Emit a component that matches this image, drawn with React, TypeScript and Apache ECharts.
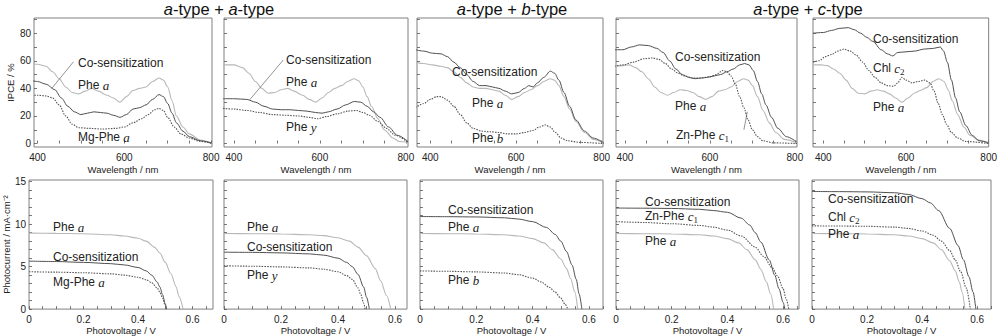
import { useEffect, useRef } from "react";
import * as echarts from "echarts";

// ---------- axis ticks ----------
const wavelengthTicks = [400, 450, 500, 550, 600, 650, 700, 750, 800];
const wavelengthLabels = [400, 600, 800];
const ipceTicks = [0, 10, 20, 30, 40, 50, 60, 70, 80, 90];
const ipceLabels = [0, 20, 40, 60, 80];
const voltageTicks = [0, 0.05, 0.1, 0.15, 0.2, 0.25, 0.3, 0.35, 0.4, 0.45, 0.5, 0.55, 0.6, 0.65];
const voltageLabels = [0, 0.2, 0.4, 0.6];
const currentTicks = [0, 1, 2, 3, 4, 5, 6, 7, 8, 9, 10, 11, 12, 13, 14, 15];
const currentLabels = [0, 5, 10, 15];

const titles = ["{i|a}-type + {i|a}-type", "{i|a}-type + {i|b}-type", "{i|a}-type + {i|c}-type"];

// ---------- IPCE spectra [wavelength nm, IPCE %] ----------
const p1Co = [[380,46],[400,45],[420,43],[440,39],[455,33],[470,27],[485,23],[500,21],[515,22],[530,23],[545,22.5],[560,22],[575,20.5],[590,19],[605,21],[620,25],[635,26],[650,28],[665,32],[680,35.5],[690,34],[700,29],[710,22],[720,15],[735,9],[750,5],[775,2],[800,0.5]];
const p1PheA = [[380,58],[400,57.5],[420,56],[435,52],[450,47],[465,41],[480,37],[495,36],[510,38],[525,40],[540,38],[560,35],[575,33],[590,30],[605,34],[620,38.5],[635,40],[650,41],[665,45],[680,47.5],[690,46],[700,41],[710,31],[720,20],[735,12],[750,7],[775,2.5],[800,0.5]];
const p1MgPheA = [[380,35],[400,35],[420,34.5],[435,33],[450,28],[465,20],[480,14],[495,11.5],[520,11],[550,10.5],[580,11],[600,12],[620,15],[640,18],[655,21],[670,24.5],[680,25.5],[690,24],[700,19],[715,12],[730,7],[750,4],[775,1.5],[800,0.3]];
const p1Pointer = [[483,59.3],[433,40]];

const p2PheA = [[375,57],[400,57],[420,55],[435,51],[450,45],[465,40],[480,36.5],[495,37],[510,39],[525,40],[540,38],[560,35],[575,32],[590,30],[605,33],[620,37],[635,40],[650,42],[665,45],[680,47],[690,45.5],[700,41],[710,34],[720,27],[735,18],[750,10],[770,4],[785,1.5],[805,1]];
const p2Co = [[375,32.5],[400,32.5],[430,32],[450,30],[470,27],[490,25],[510,24.5],[530,24.5],[550,24],[570,23.5],[590,22.5],[605,22],[620,23],[640,25],[660,28],[680,30.5],[695,30],[710,27],[725,23],[740,19],[760,12],[780,6],[805,1.5]];
const p2PheY = [[375,25.5],[400,25],[430,24],[460,22.5],[490,21],[520,20.5],[550,20],[575,19],[595,18],[615,19.5],[640,21.5],[665,23.5],[685,24],[700,22.5],[715,20.5],[735,16],[755,11],[775,6],[805,1]];
const p2Pointer = [[515,60.6],[437,31.8]];

const p3Co = [[365,68],[385,67],[405,65.5],[425,65],[440,63],[455,59],[470,55],[485,50],[500,45],[515,42],[530,42],[545,41],[560,40],[575,38],[590,36],[605,37],[620,40],[630,42],[640,41],[650,44],[665,48],[680,52.5],[690,51],[700,46],[712,37],[725,27],[740,17],[760,9],[780,4],[805,0.5]];
const p3PheA = [[365,59],[385,58],[405,57],[425,56],[440,55],[455,52],[470,48],[485,44],[500,41],[515,40],[530,40],[545,39],[560,38],[575,35],[590,32],[605,34],[620,37],[635,39],[650,42],[665,45],[680,47],[690,46],[700,42],[712,34],[725,25],[740,16],[760,8],[780,3],[805,0.5]];
const p3PheB = [[365,26],[385,29],[400,32],[415,34],[425,34],[440,31.5],[455,27],[470,21],[485,15],[500,11],[520,9],[540,8.5],[560,8],[580,7],[600,7],[620,8],[640,9.5],[655,12],[668,13.5],[680,12],[692,8],[705,4],[720,2],[750,0.8],[805,0]];

const p4Co = [[375,68],[395,68],[415,70],[435,71.5],[455,71],[475,69],[490,66],[505,60],[520,54],[535,50],[550,48],[565,47],[580,47.5],[595,48],[610,49],[625,50],[640,52],[655,54],[670,57],[682,58],[692,57],[702,53],[712,45],[722,36],[732,28],[745,19],[760,11],[780,5],[805,1]];
const p4ZnPheC1 = [[375,56],[395,57],[420,59],[445,61.5],[465,62],[480,61],[495,58],[510,54],[525,51],[540,49],[560,47.5],[580,47.5],[600,48.5],[615,50],[630,53],[640,52],[650,49],[660,43],[670,34],[680,26],[690,17],[700,10],[712,5],[725,2],[750,0.5],[805,0]];
const p4PheA = [[375,56],[395,56.5],[410,57],[425,55],[440,52],[455,47],[470,41],[485,37],[500,35],[515,37],[530,39],[545,38.5],[560,37],[575,34],[590,32],[605,34],[620,38],[635,39],[650,41],[665,45],[680,47],[690,46],[700,42],[712,34],[725,24],[740,15],[755,8],[775,3],[805,0.5]];
const p4Pointer = [[680,10],[688,23]];

const p5Co = [[375,80],[400,80.5],[420,82],[440,83.5],[460,84],[475,82.5],[490,80],[505,77],[520,74],[540,68],[555,65],[568,63.5],[580,66],[600,66.5],[620,67],[645,68.5],[667,69],[683,70],[691,67],[700,59],[710,46],[720,33],[730,23],[745,13],[760,6],[777,2],[800,0.5]];
const p5ChlC2 = [[375,59],[390,60],[405,63],[420,64.5],[435,67],[450,68.5],[465,67],[480,64],[495,59],[510,53],[525,48],[540,44],[555,42],[570,41.5],[580,44],[590,48],[600,46],[615,44],[630,45],[645,46],[658,44],[668,38],[678,29],[688,21],[698,14],[710,8],[725,4],[745,1.5],[800,0]];
const p5PheA = [[375,57],[395,57],[410,56.5],[425,54],[440,51],[455,46],[470,40],[485,36.5],[500,36],[515,38],[530,39],[545,38],[560,36],[575,33],[590,30],[605,33],[620,36.5],[635,38.5],[650,40.5],[665,45],[680,47],[692,45],[702,39],[712,31],[725,21],[740,12],[755,6],[775,2.5],[800,0.5]];

// ---------- J-V curves [voltage V, current mA cm-2] ----------
const b1PheA = [[0,8.95],[0.1,8.92],[0.2,8.88],[0.3,8.75],[0.35,8.6],[0.4,8.35],[0.43,8.0],[0.46,7.3],[0.48,6.6],[0.5,5.5],[0.52,4.2],[0.54,2.6],[0.55,1.5],[0.565,0]];
const b1Co = [[0,5.65],[0.1,5.6],[0.2,5.5],[0.3,5.35],[0.35,5.2],[0.4,4.9],[0.43,4.5],[0.45,4.0],[0.47,3.2],[0.48,2.6],[0.49,1.7],[0.5,0.6],[0.505,0]];
const b1MgPheA = [[0,4.4],[0.1,4.35],[0.2,4.28],[0.3,4.15],[0.35,4.0],[0.4,3.75],[0.43,3.45],[0.45,3.1],[0.47,2.5],[0.48,2.0],[0.49,1.3],[0.5,0.4],[0.503,0]];

const b2PheA = [[0,8.9],[0.1,8.88],[0.2,8.85],[0.3,8.75],[0.35,8.65],[0.4,8.4],[0.44,8.0],[0.47,7.3],[0.5,6.3],[0.53,4.8],[0.55,3.3],[0.57,1.6],[0.585,0]];
const b2Co = [[0,6.7],[0.1,6.68],[0.2,6.62],[0.3,6.5],[0.35,6.35],[0.4,6.0],[0.43,5.5],[0.45,5.0],[0.47,4.1],[0.49,2.6],[0.5,1.4],[0.51,0]];
const b2PheY = [[0,5.1],[0.1,5.05],[0.2,4.97],[0.3,4.85],[0.35,4.7],[0.4,4.4],[0.43,3.95],[0.45,3.5],[0.47,2.5],[0.48,1.7],[0.49,0.7],[0.495,0]];

const b3Co = [[0,10.9],[0.1,10.88],[0.2,10.85],[0.3,10.75],[0.35,10.6],[0.4,10.3],[0.45,9.6],[0.48,8.8],[0.5,8.0],[0.52,6.8],[0.54,5.2],[0.555,3.5],[0.565,1.8],[0.575,0]];
const b3PheA = [[0,8.9],[0.1,8.88],[0.2,8.85],[0.3,8.75],[0.35,8.6],[0.4,8.3],[0.44,7.8],[0.47,7.0],[0.5,5.9],[0.52,4.8],[0.535,3.6],[0.55,2.0],[0.56,0]];
const b3PheB = [[0,4.5],[0.1,4.45],[0.2,4.38],[0.3,4.25],[0.35,4.05],[0.4,3.65],[0.43,3.2],[0.46,2.55],[0.48,2.0],[0.5,1.3],[0.515,0.6],[0.525,0]];

const b4Co = [[0,11.9],[0.1,11.88],[0.2,11.85],[0.3,11.75],[0.35,11.6],[0.4,11.4],[0.45,10.7],[0.48,9.9],[0.5,9.0],[0.52,7.9],[0.55,5.8],[0.57,4.0],[0.585,2.4],[0.6,0.8],[0.606,0]];
const b4ZnPheC1 = [[0,10.3],[0.1,10.2],[0.2,10.05],[0.3,9.85],[0.35,9.65],[0.4,9.3],[0.45,8.6],[0.5,7.3],[0.53,6.2],[0.56,4.9],[0.58,3.9],[0.6,2.4],[0.61,1.3],[0.62,0]];
const b4PheA = [[0,8.9],[0.1,8.88],[0.2,8.85],[0.3,8.75],[0.35,8.6],[0.4,8.3],[0.44,7.8],[0.47,7.0],[0.5,5.8],[0.52,4.7],[0.54,3.2],[0.555,1.8],[0.566,0]];

const b5Co = [[0,13.85],[0.1,13.83],[0.2,13.8],[0.3,13.7],[0.35,13.5],[0.4,13.0],[0.43,12.5],[0.46,11.6],[0.5,9.5],[0.53,7.5],[0.55,5.8],[0.57,3.8],[0.585,2.0],[0.595,0]];
const b5ChlC2 = [[0,9.8],[0.1,9.78],[0.2,9.75],[0.3,9.65],[0.35,9.5],[0.4,9.2],[0.44,8.7],[0.47,8.0],[0.5,6.9],[0.52,5.8],[0.54,4.4],[0.56,2.5],[0.575,0]];
const b5PheA = [[0,8.9],[0.1,8.88],[0.2,8.85],[0.3,8.75],[0.35,8.6],[0.4,8.3],[0.44,7.8],[0.47,7.0],[0.5,5.7],[0.52,4.5],[0.535,3.2],[0.545,2.0],[0.555,0]];

// ---------- styles & layout ----------
const LINE_STYLES: Record<string, any> = {
  co: { color: "#505050", width: 1, type: "solid" },
  pheA: { color: "#b8b8b8", width: 1.1, type: "solid" },
  dot: { color: "#555555", width: 1.1, type: [1.5, 1.2] },
  ptr: { color: "#666666", width: 0.7, type: "solid" },
};

const TOP = { top: 18, height: 129, min: -2.5, max: 91 };
const BOT = { top: 180, height: 131, min: 0, max: 15.2 };

const topPanels = [
  { left: 34, width: 178, min: 392, max: 802, lines: [[p1PheA, "pheA"], [p1MgPheA, "dot"], [p1Co, "co"], [p1Pointer, "ptr"]] },
  { left: 224, width: 184, min: 377, max: 805, lines: [[p2PheA, "pheA"], [p2PheY, "dot"], [p2Co, "co"], [p2Pointer, "ptr"]] },
  { left: 417, width: 186, min: 369, max: 803, lines: [[p3PheA, "pheA"], [p3PheB, "dot"], [p3Co, "co"]] },
  { left: 616, width: 181, min: 379, max: 805, lines: [[p4PheA, "pheA"], [p4ZnPheC1, "dot"], [p4Co, "co"], [p4Pointer, "ptr"]] },
  { left: 813, width: 179, min: 375, max: 800, lines: [[p5PheA, "pheA"], [p5ChlC2, "dot"], [p5Co, "co"]] },
];

const botPanels = [
  { left: 26, width: 187, max: 0.675, lines: [[b1PheA, "pheA"], [b1MgPheA, "dot"], [b1Co, "co"]] },
  { left: 224, width: 183, max: 0.642, lines: [[b2PheA, "pheA"], [b2PheY, "dot"], [b2Co, "co"]] },
  { left: 420, width: 183, max: 0.65, lines: [[b3PheA, "pheA"], [b3PheB, "dot"], [b3Co, "co"]] },
  { left: 616, width: 183, max: 0.657, lines: [[b4PheA, "pheA"], [b4ZnPheC1, "dot"], [b4Co, "co"]] },
  { left: 812, width: 179, max: 0.65, lines: [[b5PheA, "pheA"], [b5ChlC2, "dot"], [b5Co, "co"]] },
];

// label texts with positions (px)
const labels: [number, number, string][] = [
  [78, 63, "Co-sensitization"], [78, 85, "Phe {i|a}"], [78, 137, "Mg-Phe {i|a}"],
  [286, 60, "Co-sensitization"], [286, 82, "Phe {i|a}"], [286, 127, "Phe {i|y}"],
  [452, 72, "Co-sensitization"], [472, 103, "Phe {i|a}"], [472, 138, "Phe {i|b}"],
  [675, 57, "Co-sensitization"], [675, 106, "Phe {i|a}"], [676, 135, "Zn-Phe {i|c}{s|1}"],
  [873, 39, "Co-sensitization"], [873, 68, "Chl {i|c}{s|2}"], [873, 107, "Phe {i|a}"],
  [53, 227, "Phe {i|a}"], [53, 257, "Co-sensitization"], [53, 282, "Mg-Phe {i|a}"],
  [247, 227, "Phe {i|a}"], [247, 247, "Co-sensitization"], [247, 275, "Phe {i|y}"],
  [448, 210, "Co-sensitization"], [448, 227, "Phe {i|a}"], [448, 280, "Phe {i|b}"],
  [645, 202, "Co-sensitization"], [645, 216, "Zn-Phe {i|c}{s|1}"], [645, 241, "Phe {i|a}"],
  [828, 199, "Co-sensitization"], [828, 217, "Chl {i|c}{s|2}"], [828, 234, "Phe {i|a}"],
];
const titlePos: [number, number][] = [[219, 9], [512, 9], [808, 9]];

const SANS = '"Liberation Sans", Arial, sans-serif';
const SERIF = '"Liberation Serif", "Times New Roman", serif';
const TXT = "#222";

function buildOption() {
  const grid: any[] = [];
  const xAxis: any[] = [];
  const yAxis: any[] = [];
  const series: any[] = [];
  const tickStyle = { color: "#555", width: 0.8 };
  const labelStyle = { fontFamily: SANS, fontSize: 10, color: "#222" };
  const nameStyle = { fontFamily: SANS, fontSize: 9.5, color: "#222" };

  const addPanel = (p: any, row: any, isTop: boolean, idx: number) => {
    const gi = grid.length;
    grid.push({ left: p.left, width: p.width, top: row.top, height: row.height, show: true, borderColor: "#808080", borderWidth: 1, backgroundColor: "transparent" });
    xAxis.push({
      type: "value", gridIndex: gi, min: isTop ? p.min : 0, max: p.max,
      name: isTop ? "Wavelength / nm" : "Photovoltage / V",
      nameLocation: "middle", nameGap: isTop ? 17 : 15, nameTextStyle: nameStyle,
      axisLine: { show: false }, splitLine: { show: false },
      axisTick: { show: true, inside: true, length: 3, lineStyle: tickStyle, customValues: isTop ? wavelengthTicks : voltageTicks },
      axisLabel: { ...labelStyle, margin: 5, showMinLabel: true, showMaxLabel: true, customValues: isTop ? wavelengthLabels : voltageLabels,
        formatter: (v: number) => (isTop ? String(v) : v === 0 ? "0" : v.toFixed(1)) },
    });
    yAxis.push({
      type: "value", gridIndex: gi, min: row.min, max: row.max,
      name: idx === 0 ? (isTop ? "IPCE / %" : "Photocurrent / mA·cm⁻²") : "",
      nameLocation: "middle", nameGap: isTop ? 19 : 14, nameRotate: 90, nameTextStyle: nameStyle,
      axisLine: { show: false }, splitLine: { show: false },
      axisTick: { show: true, inside: true, length: 3, lineStyle: tickStyle, customValues: isTop ? ipceTicks : currentTicks },
      axisLabel: { show: idx === 0, ...labelStyle, margin: 3, customValues: isTop ? ipceLabels : currentLabels },
    });
    p.lines.forEach(([data, st]: any) => {
      series.push({
        type: "line", xAxisIndex: gi, yAxisIndex: gi, data, showSymbol: false, symbol: "none",
        smooth: st === "ptr" ? false : 0.3, smoothMonotone: "x", clip: true, silent: true,
        lineStyle: LINE_STYLES[st], z: st === "co" ? 4 : st === "dot" ? 3 : 2,
      });
    });
  };
  topPanels.forEach((p, i) => addPanel(p, TOP, true, i));
  botPanels.forEach((p, i) => addPanel(p, BOT, false, i));

  const richLabel = {
    i: { font: `italic 13px ${SERIF}`, fontFamily: SERIF, fontStyle: "italic", fontSize: 13, fill: TXT },
    s: { font: `9px ${SERIF}`, fontFamily: SERIF, fontSize: 9, fill: TXT, padding: [7, 0, 0, 0] },
  };
  const graphic: any[] = labels.map(([x, y, text]) => ({
    type: "text", x, y, silent: true, z: 10,
    style: { text, font: `12px ${SANS}`, fill: TXT, rich: richLabel, align: "left", verticalAlign: "middle", textAlign: "left", textVerticalAlign: "middle" },
  }));
  titles.forEach((t, k) => {
    graphic.push({
      type: "text", x: titlePos[k][0], y: titlePos[k][1], silent: true, z: 10,
      style: {
        text: t, font: `16.5px ${SANS}`, fill: "#111",
        rich: { i: { font: `italic 16.5px ${SANS}`, fontFamily: SANS, fontStyle: "italic", fontSize: 16.5, fill: "#111" } },
        align: "center", verticalAlign: "middle", textAlign: "center", textVerticalAlign: "middle",
      },
    });
  });

  return { animation: false, backgroundColor: "#ffffff", grid, xAxis, yAxis, series, graphic };
}

export default function App() {
  const ref = useRef<HTMLDivElement>(null);
  useEffect(() => {
    if (!ref.current) return;
    const chart = echarts.init(ref.current, null, { renderer: "svg" });
    chart.setOption(buildOption() as any);
    return () => chart.dispose();
  }, []);
  return <div ref={ref} style={{ position: "fixed", left: 0, top: 0, width: 1000, height: 336, background: "#fff" }} />;
}
